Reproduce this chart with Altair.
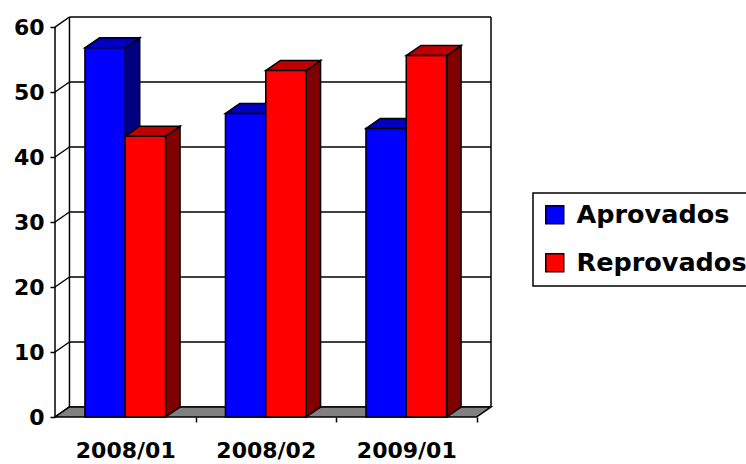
import json

import altair as alt
import pandas as pd

# Data
categories = ["2008/01", "2008/02", "2009/01"]
series = ["Aprovados", "Reprovados"]
aprovados = [56.8, 46.7, 44.4]
reprovados = [43.2, 53.3, 55.6]
y_ticks = [0, 10, 20, 30, 40, 50, 60]

# Face colours of each 3-D column: front, top, side
front_colors = ["#0000FF", "#FF0000"]
top_colors = ["#0000C0", "#C00000"]
side_colors = ["#000080", "#800000"]

# Geometry of the pseudo 3-D box (category units on x, value units on y)
DX = 0.103
DY = 1.54
BAR_W = 0.287
YMAX = 60
N = len(categories)
EDGE = 1.5
FONT = "DejaVu Sans"

values = [aprovados, reprovados]

front_rows, side_rows, top_rows = [], [], []
for i, cat in enumerate(categories):
    for j, name in enumerate(series):
        v = values[j][i]
        left = i + 0.5 + (j - 1) * BAR_W
        right = left + BAR_W
        bar = f"{cat} {name}"
        front_rows.append(dict(serie=name, bar=bar, x0=left, x1=right, base=0, v=v))
        side_rows += [
            dict(serie=name, bar=bar, x=right, lo=0, hi=v),
            dict(serie=name, bar=bar, x=right + DX, lo=DY, hi=v + DY),
        ]
        top_rows += [
            dict(serie=name, bar=bar, y=v, xl=left, xr=right),
            dict(serie=name, bar=bar, y=v + DY, xl=left + DX, xr=right + DX),
        ]

front_df = pd.DataFrame(front_rows)
side_df = pd.DataFrame(side_rows)
top_df = pd.DataFrame(top_rows)

# Walls, gridlines and the front value axis as line segments
seg_rows = [dict(xa=0, ya=0, xb=0, yb=YMAX)]
for k in y_ticks:
    seg_rows.append(dict(xa=0, ya=k, xb=DX, yb=k + DY))
    seg_rows.append(dict(xa=DX, ya=k + DY, xb=N + DX, yb=k + DY))
seg_rows.append(dict(xa=DX, ya=DY, xb=DX, yb=YMAX + DY))
seg_rows.append(dict(xa=N + DX, ya=DY, xb=N + DX, yb=YMAX + DY))
seg_df = pd.DataFrame(seg_rows)

floor_df = pd.DataFrame(
    [dict(y=0, xl=0, xr=N), dict(y=DY, xl=DX, xr=N + DX)]
)

x_scale = alt.Scale(domain=[0, N + DX], nice=False, zero=False)
y_scale = alt.Scale(domain=[0, YMAX + DY], nice=False, zero=False)

label_expr = f"{json.dumps(categories)}[datum.value - 1]"
x_axis = alt.Axis(
    values=list(range(1, N + 1)),
    labelExpr=label_expr,
    labelOffset=-436 / (N + DX) / 2,
    title=None,
    grid=False,
    domain=False,
    ticks=True,
    tickSize=5,
    tickColor="black",
    tickWidth=EDGE,
    labelPadding=18,
    labelFont=FONT,
    labelFontWeight="bold",
    labelFontSize=22,
    labelColor="black",
    labelOverlap=False,
    labelBound=False,
    labelFlush=False,
)
y_axis = alt.Axis(
    values=y_ticks,
    title=None,
    grid=False,
    domain=False,
    tickSize=5,
    tickColor="black",
    tickWidth=EDGE,
    labelPadding=6,
    labelFont=FONT,
    labelFontWeight="bold",
    labelFontSize=22,
    labelColor="black",
)


def X(field):
    return alt.X(f"{field}:Q", scale=x_scale, axis=x_axis)


def Y(field):
    return alt.Y(f"{field}:Q", scale=y_scale, axis=y_axis, stack=None)


color = alt.Color(
    "serie:N",
    scale=alt.Scale(domain=series, range=front_colors),
    legend=alt.Legend(
        title=None,
        orient="none",
        legendX=478,
        legendY=176,
        padding=9,
        rowPadding=21,
        strokeColor="black",
        symbolType="square",
        symbolSize=324,
        symbolStrokeColor="black",
        symbolStrokeWidth=EDGE,
        labelFont=FONT,
        labelFontWeight="bold",
        labelFontSize=25.5,
        labelColor="black",
        labelOffset=9,
        labelLimit=400,
    ),
)

floor = alt.Chart(floor_df).mark_area(
    orient="horizontal", fill="#808080", stroke="black", strokeWidth=EDGE
).encode(y=Y("y"), x=X("xl"), x2="xr")

walls = alt.Chart(seg_df).mark_rule(color="black", strokeWidth=EDGE).encode(
    x=X("xa"), y=Y("ya"), x2="xb", y2="yb"
)

layers = [walls, floor]
for j, name in enumerate(series):
    side = alt.Chart(side_df[side_df.serie == name]).mark_area(
        orient="vertical", fill=side_colors[j], stroke="black", strokeWidth=EDGE
    ).encode(x=X("x"), y=Y("lo"), y2="hi", detail="bar:N")
    top = alt.Chart(top_df[top_df.serie == name]).mark_area(
        orient="horizontal", fill=top_colors[j], stroke="black", strokeWidth=EDGE
    ).encode(y=Y("y"), x=X("xl"), x2="xr", detail="bar:N")
    front = alt.Chart(front_df[front_df.serie == name]).mark_rect(
        stroke="black", strokeWidth=EDGE
    ).encode(x=X("x0"), x2="x1", y=Y("base"), y2="v", color=color)
    layers += [side, top, front]

chart = (
    alt.layer(*layers)
    .properties(
        width=436,
        height=400,
        padding={"left": 55, "top": 17, "right": 255, "bottom": 47},
        autosize=alt.AutoSizeParams(type="none"),
        background="white",
    )
    .configure_view(stroke=None)
    .configure_legend(strokeWidth=EDGE)
)

chart.save("out.html", embed_options={"renderer": "svg", "actions": False})
